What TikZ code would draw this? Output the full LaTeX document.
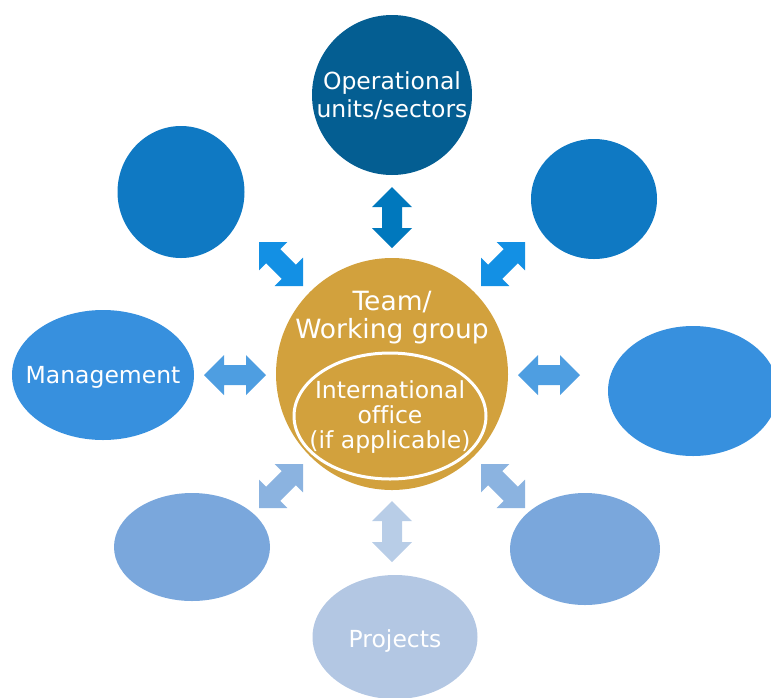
\documentclass[tikz,border=0pt]{standalone}
\usepackage{fontspec}
\setmainfont{DejaVu Sans}[Ligatures=NoCommon]
\usetikzlibrary{shapes.geometric,calc}
\definecolor{cTop}{HTML}{045E92}
\definecolor{cMidA}{HTML}{0F79C3}
\definecolor{cMidB}{HTML}{3790DE}
\definecolor{cLow}{HTML}{7AA7DC}
\definecolor{cProj}{HTML}{B3C7E3}
\definecolor{cGold}{HTML}{D2A13D}
\definecolor{aTop}{HTML}{0078BD}
\definecolor{aDiagTop}{HTML}{1390E4}
\definecolor{aHoriz}{HTML}{4E9EE1}
\definecolor{aDiagBot}{HTML}{8BB3E0}
\definecolor{aBot}{HTML}{B8CDE7}
\tikzset{
  blob/.style={ellipse, inner sep=0pt, draw=none},
  lbl/.style={text=white, align=center, inner sep=0pt, font=\fontsize{23.5}{28}\selectfont},
  lblteam/.style={text=white, align=center, inner sep=0pt, font=\fontsize{26.5}{28}\selectfont},
  lblin/.style={text=white, align=center, inner sep=0pt, font=\fontsize{23.5}{25}\selectfont},
  biarrow/.style={draw=none, to path={
    (\tikztostart)
    -- ($(\tikztostart)!28.284pt!45:(\tikztotarget)$)
    -- ($(\tikztostart)!22.361pt!26.565:(\tikztotarget)$)
    -- ($(\tikztotarget)!22.361pt!-26.565:(\tikztostart)$)
    -- ($(\tikztotarget)!28.284pt!-45:(\tikztostart)$)
    -- (\tikztotarget)
    -- ($(\tikztotarget)!28.284pt!45:(\tikztostart)$)
    -- ($(\tikztotarget)!22.361pt!26.565:(\tikztostart)$)
    -- ($(\tikztostart)!22.361pt!-26.565:(\tikztotarget)$)
    -- ($(\tikztostart)!28.284pt!-45:(\tikztotarget)$)
    -- cycle}},
}
\begin{document}
\begin{tikzpicture}[x=1pt,y=-1pt]
\useasboundingbox (0,0) rectangle (771,697);
\clip (0,0) rectangle (771,697);
% outer nodes
\node[blob, fill=cTop, minimum width=160pt, minimum height=160pt] (ops) at (392,95) {};
\node[blob, fill=cMidA, minimum width=127pt, minimum height=132pt] (tl) at (181,192) {};
\node[blob, fill=cMidA, minimum width=126pt, minimum height=120pt] (tr) at (594,199) {};
\node[blob, fill=cMidB, minimum width=182pt, minimum height=130pt] (mgmt) at (103,375) {};
\node[blob, fill=cMidB, minimum width=170pt, minimum height=130pt] (rt) at (693,391) {};
\node[blob, fill=cLow, minimum width=156pt, minimum height=108pt] (bl) at (192,547) {};
\node[blob, fill=cLow, minimum width=150pt, minimum height=112pt] (br) at (585,549) {};
\node[blob, fill=cProj, minimum width=165pt, minimum height=124pt] (proj) at (395,637) {};
% centre
\node[circle, fill=cGold, inner sep=0pt, minimum size=232pt] (team) at (392,374) {};
\node[blob, draw=white, line width=3pt, minimum width=192pt, minimum height=126pt] (intl) at (390,416) {};
% labels
\node[lbl] (opsT) at (392,96) {Operational\\units/sectors};
\node[lbl] (mgmtT) at (103,377) {Management};
\node[lbl] (projT) at (395,641) {Projects};
\node[lblteam] (teamT) at (392,318) {Team/\\Working group};
\node[lblin] (intlT) at (390,417.5) {International\\office\\(if applicable)};
% arrow end points
\coordinate (uA) at (392,248); \coordinate (uB) at (392,187);
\coordinate (dA) at (392,501); \coordinate (dB) at (392,562);
\coordinate (lA) at (266,375); \coordinate (lB) at (204,375);
\coordinate (rA) at (518,375); \coordinate (rB) at (580,375);
\coordinate (ulA) at (303,286); \coordinate (ulB) at (259,242);
\coordinate (urA) at (481,286); \coordinate (urB) at (525,242);
\coordinate (dlA) at (303,464); \coordinate (dlB) at (259,508);
\coordinate (drA) at (481,464); \coordinate (drB) at (525,508);
% arrows
\fill[biarrow, aTop] (uA) to (uB);
\fill[biarrow, aBot] (dA) to (dB);
\fill[biarrow, aHoriz] (lA) to (lB);
\fill[biarrow, aHoriz] (rA) to (rB);
\fill[biarrow, aDiagTop] (ulA) to (ulB);
\fill[biarrow, aDiagTop] (urA) to (urB);
\fill[biarrow, aDiagBot] (dlA) to (dlB);
\fill[biarrow, aDiagBot] (drA) to (drB);
\end{tikzpicture}
\end{document}
